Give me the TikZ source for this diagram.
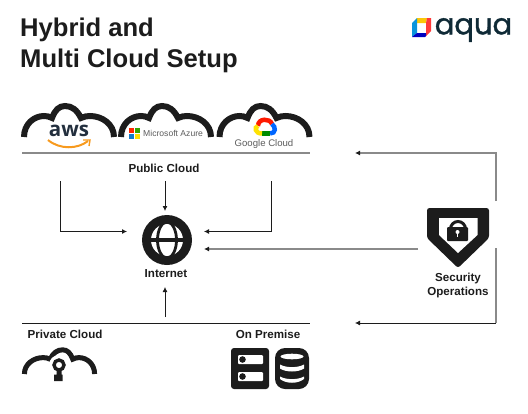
\documentclass[tikz,border=0pt]{standalone}
\usepackage{fontspec}
\usetikzlibrary{arrows.meta}
\setmainfont{Liberation Sans}
\newfontfamily\logofont[FakeBold=1.4]{Poppins}
\newfontfamily\awsfont{Open Sans}
\definecolor{ink}{HTML}{1C1C1C}
\definecolor{rulegray}{HTML}{8A8A8A}
\definecolor{aquadark}{HTML}{0F2A36}
\definecolor{awsnavy}{HTML}{232F3E}
\definecolor{awsorange}{HTML}{F79A1E}
\definecolor{logogray}{HTML}{5C5C5C}
\tikzset{
  label/.style={font=\bfseries\fontsize{11.6}{14}\selectfont, text=ink, inner sep=0pt, align=center},
  title/.style={font=\bfseries\fontsize{25.6}{31}\selectfont, text=ink, inner sep=0pt, align=left},
  conn/.style={-{Latex[length=5pt,width=5pt]}, ink, line width=0.8pt},
  conngray/.style={-{Latex[length=5pt,width=5pt,color=ink]}, rulegray, line width=1.1pt},
  bar/.style={ink, line width=0.8pt},
  bargray/.style={rulegray, line width=1.3pt},
  pics/cloud/.style={code={
    \draw[ink, line width=#1, miter limit=2]
      (-45,0) .. controls (-45,-13) and (-35,-21) .. (-25,-21)
      .. controls (-22,-21) and (-20,-20.5) .. (-17,-19)
      .. controls (-14,-27) and (-10,-31) .. (-4,-31)
      .. controls (3,-31) and (8,-27) .. (12,-19)
      .. controls (15,-20.5) and (18,-21) .. (21,-21)
      .. controls (33,-21) and (45,-13) .. (45,0);
  }}
}
\begin{document}
\begin{tikzpicture}[x=1pt, y=-1pt]
    \useasboundingbox (0,0) rectangle (528,413);

    \node[title, anchor=west] (heading) at (20,45) {Hybrid and\\Multi Cloud Setup};

    % aqua logo
    \fill[yellow!60!orange] (417,18) -- (427,18) -- (426,23) -- (417,23) -- (414,22) -- cycle;
    \fill[red!70!pink] (427,18) -- (431,18) -- (431,31) -- (426,36) -- (426,23) -- cycle;
    \fill[cyan!80!blue] (417,18) -- (417,23) -- (417,33) -- (412,37) -- (412,23) -- cycle;
    \fill[blue!75!black] (412,37) -- (417,33) -- (426,33) -- (426,36) -- (425,37) -- cycle;
    \node[inner sep=0pt, text=aquadark, font=\logofont\fontsize{29}{30}\selectfont] (aqualogo) at (473.5,30) {aqua};

    % Public clouds
    \pic at (69,137) {cloud=6pt};
    \pic at (166,137) {cloud=6pt};
    \pic at (264.5,137) {cloud=6pt};

    \node[inner sep=0pt, text=awsnavy, font=\awsfont\bfseries\fontsize{20.5}{20}\selectfont] (awslogo) at (69,131) {aws};
    \draw[awsorange, line width=2pt] (48,140) .. controls (60,150) and (78,149) .. (88,141);
    \draw[awsorange, line width=1.4pt] (83,140) -- (90,140) -- (89,146);

    \fill[red!70!orange] (129,128) rectangle (134.3,133.3);
    \fill[green!55!black!80!yellow] (134.7,128) rectangle (140,133.3);
    \fill[cyan!60!blue] (129,133.7) rectangle (134.3,139);
    \fill[yellow!80!orange] (134.7,133.7) rectangle (140,139);
    \node[inner sep=0pt, anchor=west, text=logogray, font=\fontsize{8.6}{10}\selectfont] (azurelogo) at (143,133.5) {Microsoft Azure};

    \draw[red!80!orange, line width=4.5pt] (258,126) .. controls (258,118) and (270,118) .. (272,124);
    \draw[blue!60!cyan, line width=4.5pt] (272,124) .. controls (276,127) and (276,133.5) .. (270,133.5);
    \draw[green!55!black, line width=4.5pt] (270,133.5) -- (262,133.5);
    \draw[yellow!85!orange, line width=4.5pt] (262,133.5) .. controls (255,133.5) and (254,127) .. (258,126);
    \node[inner sep=0pt, text=logogray, font=\fontsize{9.6}{11}\selectfont] (googlelogo) at (264,144.5) {Google Cloud};

    \coordinate (pubL) at (22,153);
    \coordinate (pubR) at (310,153);
    \draw[bargray] (pubL) -- (pubR);
    \node[label] (pubcloud) at (164,168) {Public Cloud};

    % Internet
    \node[circle, fill=ink, minimum size=50pt, inner sep=0pt] (globe) at (167,240) {};
    \fill[white] (globe.center) circle (16);
    \draw[ink, line width=2.8pt] (globe.center) ellipse (9.5 and 18);
    \draw[ink, line width=3.4pt] (150,240) -- (184,240);
    \node[label] (internet) at (166,274) {Internet};

    \coordinate (awsdrop) at (60,181);
    \coordinate (midtop) at (165,181);
    \coordinate (gcpdrop) at (271,181);
    \coordinate (inL) at (127,231.5);
    \coordinate (inT) at (165,211);
    \coordinate (inR) at (204,231.5);
    \coordinate (inS) at (204,249);
    \coordinate (inB) at (165,287);
    \coordinate (midbot) at (165,317);
    \draw[conn] (awsdrop) |- (inL);
    \draw[conn] (midtop) -- (inT);
    \draw[conn] (gcpdrop) |- (inR);
    \draw[conn] (midbot) -- (inB);

    % Private side
    \coordinate (privL) at (22,323);
    \coordinate (privR) at (310,323);
    \draw[bar] (privL) -- (privR);
    \node[label, anchor=west] (private) at (27.5,334) {Private Cloud};
    \node[label] (premise) at (268,334) {On Premise};

    \pic[xscale=-0.78, yscale=0.78] at (59.5,374) {cloud=5pt};
    \fill[white] (59,365) circle (10);
    \fill[white] (50,368) rectangle (68,382);
    \draw[ink, line width=3.4pt] (59,365) circle (5);
    \fill[ink] (54,381) -- (54,374.5) -- (56.5,374.5) -- (56.5,369) -- (61.5,369) -- (61.5,374.5) -- (62.7,374.5) -- (62.7,381) -- cycle;

    % Server and database
    \fill[ink, rounded corners=3pt] (231,348) rectangle (269,389);
    \fill[white, rounded corners=1pt] (238,355) rectangle (263,364);
    \fill[white, rounded corners=1pt] (238,372) rectangle (263,381);
    \fill[ink] (242.5,359.5) circle (3.3);
    \fill[ink] (242.5,376.5) circle (3.3);

    \fill[ink, rounded corners=10pt] (275,348) rectangle (309,389);
    \fill[white] (292,356.5) ellipse (11.5 and 2.8);
    \fill[white] (280,364.5) .. controls (286,368) and (298,368) .. (304,364.5) -- (304,368.5) .. controls (298,372.5) and (286,372.5) .. (280,368.5) -- cycle;
    \fill[white] (280,376.5) .. controls (286,380) and (298,380) .. (304,376.5) -- (304,379) .. controls (298,384) and (286,384) .. (280,379) -- cycle;

    % Security operations
    \fill[ink, rounded corners=2.5pt] (427,208) -- (489,208) -- (489,238) -- (458,268) -- (427,238) -- cycle;
    \fill[white] (439,218) -- (477.5,218) -- (477.5,235) -- (458,253) -- (439,235) -- cycle;
    \draw[ink, line width=3pt] (450.5,229) arc (180:360:7.5);
    \fill[ink, rounded corners=1pt] (447,227) rectangle (468,241);
    \fill[white] (457.5,232) circle (2);
    \fill[white] (456.7,232.5) rectangle (458.3,237);
    \node[label] (security) at (458,285) {Security\\Operations};

    \coordinate (secT) at (496,201);
    \coordinate (secB) at (496,248);
    \coordinate (secM) at (418,249);
    \coordinate (cornerB) at (496,323);
    \coordinate (outT) at (355,153);
    \coordinate (outB) at (355,323);
    \draw[conngray] (secT) |- (outT);
    \draw[conngray] (secM) -- (inS);
    \draw[rulegray, line width=1.1pt] (secB) -- (cornerB);
    \draw[conn] (cornerB) -- (outB);
\end{tikzpicture}
\end{document}
